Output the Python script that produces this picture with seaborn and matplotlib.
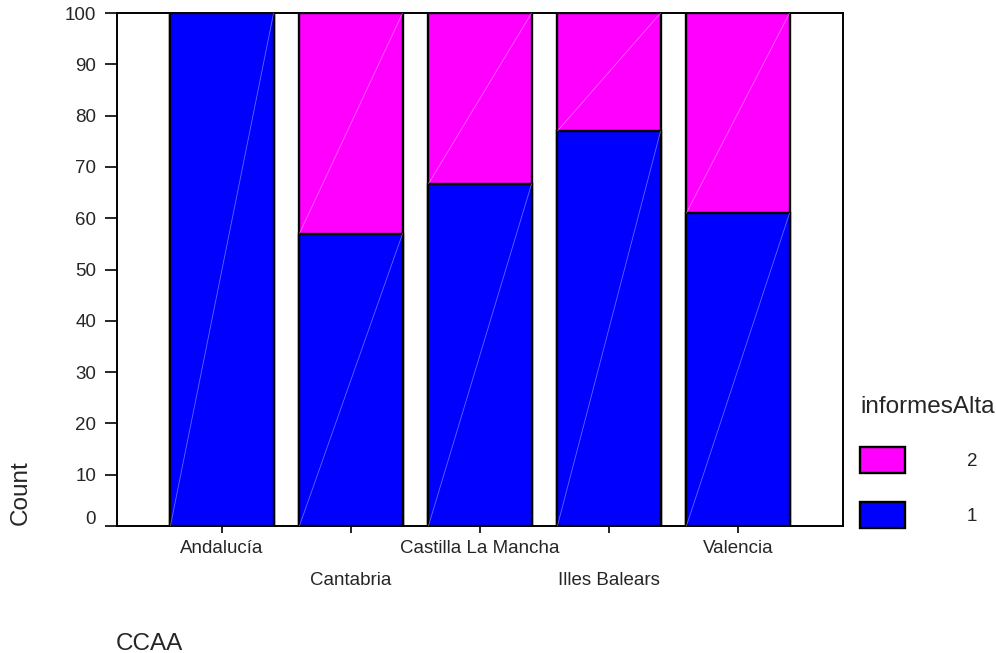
import pandas as pd
import matplotlib
matplotlib.use("Agg")
import matplotlib.pyplot as plt
import matplotlib.transforms as mtransforms
from matplotlib.patches import Patch
import seaborn as sns

# percentage of informesAlta per CCAA
ccaa = ["Andalucía", "Cantabria", "Castilla La Mancha", "Illes Balears", "Valencia"]
pct_1 = [100, 57, 66.7, 77, 61]
pct_2 = [0, 43, 33.3, 23, 39]

BLUE = "#0000FF"
MAGENTA = "#FF00FF"


def main():
    sns.set_style("white")
    plt.rcParams["font.family"] = ["Liberation Sans", "DejaVu Sans"]

    df = pd.DataFrame({"CCAA": ccaa, "p1": pct_1, "p2": pct_2})
    df["total"] = df["p1"] + df["p2"]

    fig = plt.figure(figsize=(9.96, 6.53), dpi=100)
    ax = fig.add_axes([117 / 996, 1 - 526 / 653, 726 / 996, 513 / 653])

    # top segment drawn as full height, bottom segment drawn over it
    sns.barplot(data=df, x="CCAA", y="total", color=MAGENTA, saturation=1,
                edgecolor="black", linewidth=1.7, width=0.8, ax=ax)
    n_top = len(ax.patches)
    sns.barplot(data=df, x="CCAA", y="p1", color=BLUE, saturation=1,
                edgecolor="black", linewidth=1.7, width=0.8, ax=ax)

    # faint diagonal line across each segment
    for p_top, p_bot in zip(ax.patches[:n_top], ax.patches[n_top:]):
        x0, w, h1 = p_bot.get_x(), p_bot.get_width(), p_bot.get_height()
        ax.plot([x0, x0 + w], [0, h1], color="white", lw=0.6, alpha=0.4, zorder=3)
        if p_top.get_height() > h1:
            ax.plot([x0, x0 + w], [h1, p_top.get_height()], color="white",
                    lw=0.6, alpha=0.4, zorder=3)

    ax.set_xlim(-0.814, 4.814)
    ax.set_ylim(0, 100)
    ax.set_yticks(range(0, 101, 10))
    for s in ax.spines.values():
        s.set_visible(True)
        s.set_color("black")
        s.set_linewidth(1.4)

    ax.tick_params(axis="y", left=True, length=9, width=1.4, pad=6, labelsize=13.5)
    ax.tick_params(axis="x", bottom=True, length=5, width=1.4, pad=5, labelsize=13.5)

    # stagger the category labels on two rows
    for i, lab in enumerate(ax.get_xticklabels()):
        if i % 2 == 1:
            lab.set_transform(lab.get_transform() + mtransforms.ScaledTranslation(
                0, -0.32, fig.dpi_scale_trans))
    zero_lab = ax.get_yticklabels()[0]
    zero_lab.set_transform(zero_lab.get_transform() + mtransforms.ScaledTranslation(
        0, 0.08, fig.dpi_scale_trans))

    ax.set_ylabel("Count", fontsize=17.5)
    ax.yaxis.set_label_coords(-0.117, 0.066)
    ax.set_xlabel("CCAA", fontsize=17.5)
    ax.xaxis.set_label_coords(0.045, -0.208)

    handles = [Patch(facecolor=MAGENTA, edgecolor="black", linewidth=1.7, label="2"),
               Patch(facecolor=BLUE, edgecolor="black", linewidth=1.7, label="1")]
    leg = fig.legend(handles=handles, title="informesAlta", loc="upper left",
                     bbox_to_anchor=(860 / 996, 1 - 396 / 653), frameon=False,
                     fontsize=13.5, title_fontsize=17.5, handlelength=2.4,
                     handleheight=1.75, handletextpad=3.3, labelspacing=1.55,
                     borderpad=0, borderaxespad=0)
    leg._legend_box.align = "left"

    fig.savefig("out.png", dpi=100)


if __name__ == "__main__":
    main()
